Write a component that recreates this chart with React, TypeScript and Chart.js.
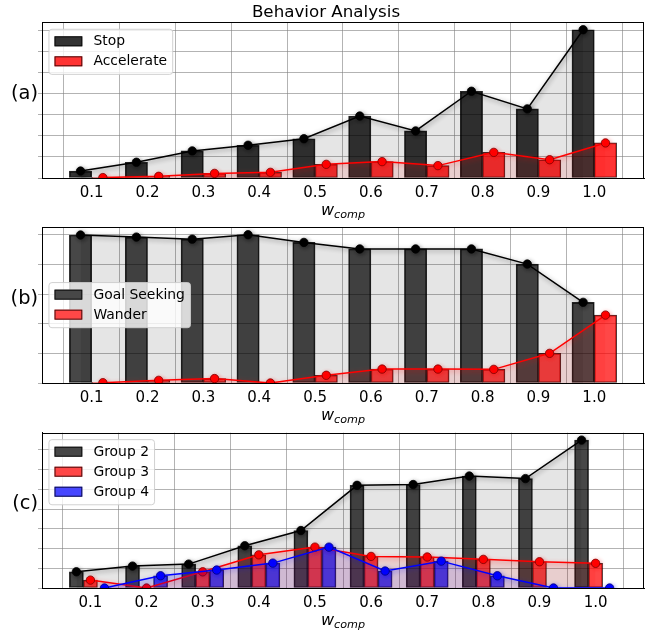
import React, { useEffect, useRef } from 'react';
import { Chart, registerables } from 'chart.js';

Chart.register(...registerables);

// ---------- data ----------
const wComp = [0.1, 0.2, 0.3, 0.4, 0.5, 0.6, 0.7, 0.8, 0.9, 1.0];
const xTickValues = [0.1, 0.2, 0.3, 0.4, 0.5, 0.6, 0.7, 0.8, 0.9, 1.0];

// (a)
const stopVals = [0.33, 0.75, 1.29, 1.56, 1.87, 2.95, 2.24, 4.13, 3.29, 7.06];
const accelerateVals = [0.02, 0.08, 0.22, 0.27, 0.65, 0.78, 0.59, 1.22, 0.87, 1.67];
const yTicksA = [0, 1, 2, 3, 4, 5, 6, 7];

// (b)
const goalSeekingVals = [4.99, 4.92, 4.85, 5.0, 4.74, 4.52, 4.52, 4.52, 4.01, 2.72];
const wanderVals = [0.01, 0.09, 0.15, 0.0, 0.26, 0.47, 0.47, 0.46, 1.0, 2.29];
const yTicksB = [0, 1, 2, 3, 4, 5];

// (c)
const group2Vals = [0.82, 1.11, 1.21, 2.14, 2.91, 5.2, 5.24, 5.67, 5.54, 7.49];
const group3Vals = [0.4, 0.0, 0.82, 1.68, 2.07, 1.6, 1.57, 1.45, 1.33, 1.25];
const group4Vals = [0.0, 0.62, 0.91, 1.26, 2.07, 0.86, 1.36, 0.62, 0.0, 0.0];
const yTicksC = [0, 1, 2, 3, 4, 5, 6, 7];

const titleText = 'Behavior Analysis';

// ---------- styling / layout ----------
const FONT = '"DejaVu Sans", Verdana, sans-serif';
const W = 652;

type Series = {
  label: string;
  values: number[];
  bar: string;
  edge: string;
  line: string;
  fill: string;
  marker: string;
  markerEdge: string;
  glow: string;
};

type PanelSpec = {
  top: number;
  height: number;
  chartTop: number;
  chartBottom: number;
  label: string;
  title?: string;
  yTicks: number[];
  legendLoc: 'upper' | 'center';
  spacing: number; // distance between neighbouring bar centres in x units
  series: Series[];
};

const blackS = (label: string, values: number[], alpha: number): Series => ({
  label, values,
  bar: `rgba(0,0,0,${alpha})`, edge: 'rgba(0,0,0,0.85)',
  line: '#000000', fill: 'rgba(0,0,0,0.1)', marker: '#000000', markerEdge: '#000000',
  glow: 'rgba(0,0,0,0.45)',
});
const redS = (label: string, values: number[], alpha: number): Series => ({
  label, values,
  bar: `rgba(255,0,0,${alpha})`, edge: 'rgba(40,0,0,0.85)',
  line: '#ff0000', fill: 'rgba(255,0,0,0.1)', marker: '#ff0000', markerEdge: '#7a0000',
  glow: 'rgba(255,0,0,0.45)',
});
const blueS = (label: string, values: number[], alpha: number): Series => ({
  label, values,
  bar: `rgba(0,0,255,${alpha})`, edge: 'rgba(0,0,40,0.85)',
  line: '#0000ff', fill: 'rgba(0,0,255,0.1)', marker: '#0000ff', markerEdge: '#00007a',
  glow: 'rgba(0,0,255,0.45)',
});

const panels: PanelSpec[] = [
  {
    top: 0, height: 226, chartTop: 22.3, chartBottom: 178, label: '(a)', title: titleText,
    yTicks: yTicksA, legendLoc: 'upper', spacing: 0.04,
    series: [blackS('Stop', stopVals, 0.8), redS('Accelerate', accelerateVals, 0.8)],
  },
  {
    top: 222, height: 204, chartTop: 5.3, chartBottom: 161, label: '(b)',
    yTicks: yTicksB, legendLoc: 'center', spacing: 0.04,
    series: [blackS('Goal Seeking', goalSeekingVals, 0.72), redS('Wander', wanderVals, 0.72)],
  },
  {
    top: 420, height: 214, chartTop: 12.7, chartBottom: 168, label: '(c)',
    yTicks: yTicksC, legendLoc: 'upper', spacing: 0.025,
    series: [
      blackS('Group 2', group2Vals, 0.72),
      redS('Group 3', group3Vals, 0.72),
      blueS('Group 4', group4Vals, 0.72),
    ],
  },
];

// ---------- plugins ----------
const glowPlugin = {
  id: 'glow',
  beforeDatasetDraw(chart: any, args: any) {
    const ds = chart.data.datasets[args.index];
    if (!ds.glowColor) return;
    const ctx = chart.ctx;
    ctx.save();
    ctx.shadowColor = ds.glowColor;
    ctx.shadowBlur = 5;
    ctx.shadowOffsetX = 1;
    ctx.shadowOffsetY = 1.5;
  },
  afterDatasetDraw(chart: any, args: any) {
    const ds = chart.data.datasets[args.index];
    if (!ds.glowColor) return;
    chart.ctx.restore();
  },
};

const decorPlugin = {
  id: 'decor',
  afterDraw(chart: any, _args: any, opts: any) {
    const { ctx, chartArea: a } = chart;
    ctx.save();
    // axes frame
    ctx.strokeStyle = '#000';
    ctx.lineWidth = 1;
    ctx.strokeRect(Math.round(a.left) + 0.5, Math.round(a.top) + 0.5, Math.round(a.right - a.left) - 1, Math.round(a.bottom - a.top));

    // legend
    const fs = 13.9;
    ctx.font = `${fs}px ${FONT}`;
    const items = chart.data.datasets.filter((d: any) => d.type === 'bar');
    const maxW = Math.max(...items.map((d: any) => ctx.measureText(d.label).width));
    const pad = 0.4 * fs, handle = 2 * fs, gap = 0.8 * fs, rowH = 20;
    const boxW = pad * 2 + handle + gap + maxW;
    const boxH = pad * 2 + items.length * rowH - 6;
    const bx = a.left + 0.5 * fs;
    const by = opts.legendLoc === 'center' ? (a.top + a.bottom) / 2 - boxH / 2 : a.top + 0.5 * fs;
    ctx.beginPath();
    ctx.roundRect(bx, by, boxW, boxH, 3);
    ctx.fillStyle = 'rgba(255,255,255,0.8)';
    ctx.fill();
    ctx.strokeStyle = 'rgba(204,204,204,0.9)';
    ctx.lineWidth = 1;
    ctx.stroke();
    items.forEach((d: any, i: number) => {
      const cy = by + pad + 6.5 + i * rowH;
      ctx.fillStyle = '#ffffff';
      ctx.fillRect(bx + pad, cy - 5, handle, 10);
      ctx.fillStyle = d.backgroundColor;
      ctx.fillRect(bx + pad, cy - 5, handle, 10);
      ctx.strokeStyle = d.borderColor;
      ctx.strokeRect(bx + pad + 0.5, cy - 4.5, handle - 1, 9);
      ctx.fillStyle = '#000';
      ctx.textBaseline = 'middle';
      ctx.textAlign = 'left';
      ctx.fillText(d.label, bx + pad + handle + gap, cy + 0.5);
    });

    // panel label
    ctx.font = `19.4px ${FONT}`;
    ctx.fillStyle = '#000';
    ctx.textAlign = 'right';
    ctx.textBaseline = 'alphabetic';
    ctx.fillText(opts.label, 38, (a.top + a.bottom) / 2 - 1);

    // x label: w_comp
    const mainF = `italic 16px ${FONT}`;
    const subF = `italic 11.2px ${FONT}`;
    ctx.font = mainF;
    const ww = ctx.measureText('w').width;
    ctx.font = subF;
    const cw = ctx.measureText('comp').width;
    const x0 = (a.left + a.right) / 2 - (ww + cw) / 2;
    const yb = a.bottom + 36.5;
    ctx.textAlign = 'left';
    ctx.font = mainF;
    ctx.fillText('w', x0, yb);
    ctx.font = subF;
    ctx.fillText('comp', x0 + ww, yb + 3);

    // title
    if (opts.title) {
      ctx.font = `16.7px ${FONT}`;
      ctx.textAlign = 'center';
      ctx.fillText(opts.title, W / 2, 17);
    }
    ctx.restore();
  },
};

// ---------- panel ----------
function Panel({ spec }: { spec: PanelSpec }) {
  const ref = useRef<HTMLCanvasElement | null>(null);

  useEffect(() => {
    if (!ref.current) return;
    const n = spec.series.length;
    const offsets = spec.series.map((_, i) => (i - (n - 1) / 2) * spec.spacing);
    const datasets: any[] = [];
    let allVals: number[] = [];
    spec.series.forEach((s, i) => {
      const pts = wComp.map((w, j) => ({ x: +(w + offsets[i]).toFixed(4), y: s.values[j] }));
      allVals = allVals.concat(s.values);
      datasets.push({
        type: 'bar',
        label: s.label,
        data: pts,
        backgroundColor: s.bar,
        borderColor: s.edge,
        borderWidth: 1,
        borderSkipped: false,
        grouped: false,
        barPercentage: 1,
        categoryPercentage: 1,
        order: 20 + i,
      });
      datasets.push({
        type: 'line',
        label: s.label + ' trend',
        data: pts,
        borderColor: s.line,
        borderWidth: 1.5,
        backgroundColor: s.fill,
        fill: 'origin',
        tension: 0,
        pointRadius: 4.2,
        pointBackgroundColor: s.marker,
        pointBorderColor: s.markerEdge,
        pointBorderWidth: 0.8,
        clip: 0,
        order: 10 - i,
        glowColor: s.glow,
      });
    });
    const lo = wComp[0] + offsets[0] - spec.spacing / 2;
    const hi = wComp[wComp.length - 1] + offsets[n - 1] + spec.spacing / 2;
    const margin = (hi - lo) * 0.05;
    const yMax = Math.max(...allVals) * 1.05;
    const gridColor = 'rgba(128,128,128,0.6)';

    const chart = new Chart(ref.current, {
      type: 'bar',
      data: { datasets },
      options: {
        responsive: false,
        animation: false,
        devicePixelRatio: 1,
        layout: { padding: { top: spec.chartTop, right: 8, bottom: 0, left: 0 } },
        plugins: {
          legend: { display: false },
          tooltip: { enabled: false },
          decor: { label: spec.label, title: spec.title, legendLoc: spec.legendLoc },
        } as any,
        scales: {
          x: {
            type: 'linear',
            min: lo - margin,
            max: hi + margin,
            offset: false,
            z: 1,
            afterBuildTicks: (s: any) => { s.ticks = xTickValues.map((v) => ({ value: v })); },
            afterFit: (s: any) => { s.height = spec.height - spec.chartBottom; },
            ticks: {
              callback: (v: any) => Number(v).toFixed(1),
              font: { family: FONT, size: 15 },
              color: '#000',
              padding: 2,
              maxRotation: 0,
              autoSkip: false,
            },
            grid: { color: gridColor, lineWidth: 1, tickLength: 4, tickColor: 'rgba(0,0,0,0)' },
            border: { display: true, color: '#000', width: 1 },
          },
          y: {
            type: 'linear',
            min: 0,
            max: yMax,
            z: 1,
            afterBuildTicks: (s: any) => { s.ticks = spec.yTicks.map((v) => ({ value: v })); },
            afterFit: (s: any) => { s.width = 42; },
            ticks: { display: false },
            grid: { color: gridColor, lineWidth: 1, tickLength: 4, tickColor: '#b0b0b0' },
            border: { display: true, color: '#000', width: 1 },
          },
        } as any,
      },
      plugins: [glowPlugin, decorPlugin],
    } as any);
    return () => chart.destroy();
  }, [spec]);

  return (
    <canvas
      ref={ref}
      width={W}
      height={spec.height}
      style={{ position: 'absolute', left: 0, top: spec.top, width: W, height: spec.height }}
    />
  );
}

export default function App() {
  return (
    <div style={{ position: 'fixed', left: 0, top: 0, width: W, height: 634, background: '#fff' }}>
      {panels.map((p) => (
        <Panel key={p.label} spec={p} />
      ))}
    </div>
  );
}
